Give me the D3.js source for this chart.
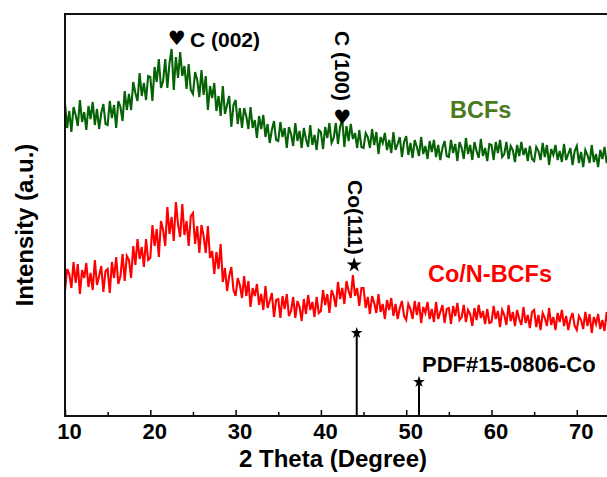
<!DOCTYPE html>
<html>
<head>
<meta charset="utf-8">
<script src="https://cdn.jsdelivr.net/npm/d3@7"></script>
<style>
  body { margin: 0; background: #fff; }
  text { font-family: "Liberation Sans", Arial, sans-serif; font-weight: bold; }
</style>
</head>
<body>
<svg id="chart" width="607" height="477"></svg>
<script>
// scan grid of the diffractometer (degrees 2 theta)
var thetaStart = 10, thetaStep = 0.25

// BCFs counts, one row = 5 degrees
var bcfs = [
  313,288,305,284,309,301,290,316,294,304,286,310,297,314,291,307,287,303,312,292,
  291,315,298,311,288,315,309,295,325,306,322,306,334,323,315,343,320,333,316,340,
  339,315,349,334,357,328,335,357,328,353,367,326,359,338,364,340,350,327,352,326,
  322,344,336,319,346,321,340,306,330,318,333,305,320,300,330,302,311,320,289,311,
  316,292,308,288,308,300,287,309,288,296,278,300,287,301,279,292,273,286,295,276,
  275,294,279,288,268,289,282,270,293,275,285,268,288,277,269,291,271,281,266,286,
  284,267,289,278,293,273,278,293,272,289,297,269,290,275,292,277,283,268,286,269,
  268,283,279,268,287,271,284,262,279,273,283,266,276,263,284,266,272,279,259,274,
  280,261,273,258,276,269,260,279,262,270,257,275,264,276,259,271,256,268,275,260,
  259,276,263,272,255,274,268,257,278,262,271,256,274,265,258,277,260,268,255,272,
  271,256,274,263,276,259,262,274,257,270,266,254,271,260,274,261,268,255,270,257,
  255,269,265,256,273,259,271,251,267,261,271,256,265,254,272,256,262,268,251,265,
  270,253,264,249,266,261,253,271,254,262,249,266,257,269,253,264
]

// Co/N-BCFs counts
var conBcfs = [
  125,147,142,128,154,133,152,122,146,138,153,129,143,126,156,131,140,150,124,145,
  147,123,154,138,159,132,140,162,135,160,156,138,170,151,177,157,169,149,177,156,
  158,191,170,187,159,195,186,170,209,182,199,175,214,192,179,212,181,195,170,200,
  203,172,190,163,191,180,163,190,158,165,142,164,147,172,134,148,125,140,149,126,
  120,138,131,118,140,120,135,109,128,120,132,111,122,106,130,108,115,123,99,116,
  117,98,120,107,122,100,105,119,98,115,109,95,117,102,121,106,114,99,119,103,
  105,126,111,122,103,126,120,109,134,117,128,112,135,125,118,141,120,128,110,128,
  128,108,119,102,120,113,103,122,104,112,97,116,106,118,100,112,97,108,115,100,
  96,112,107,97,115,101,114,93,109,103,114,97,107,94,114,97,104,111,93,107,
  108,92,110,100,113,96,99,111,94,106,102,90,108,96,111,98,105,92,107,93,
  94,110,97,105,89,106,101,91,111,95,104,90,106,97,91,109,93,101,88,104,
  106,89,101,86,103,98,90,108,91,99,86,103,94,106,90,100,86,97,103,90,
  86,100,96,87,104,90,102,83,99,92,102,87,96,85,104,88
]

// PDF#15-0806 Co reference lines
var pdfTheta = [44.2, 51.5]
var pdfIntensity = [100, 41]

var majorTicks = [10, 20, 30, 40, 50, 60, 70]
var minorTicks = [15, 25, 35, 45, 55, 65, 75]

var margin = {left: 65, top: 14}
var plotH = 402

var svg = d3.select("#chart")

var x = d3.scaleLinear().domain([10, 80]).range([margin.left, margin.left + 70 * 8.53])
var y = d3.scaleLinear().domain([0, 402]).range([margin.top + plotH, margin.top])
var yPdf = d3.scaleLinear().domain([0, 100]).range([margin.top + plotH, 333])

svg.append("clipPath").attr("id", "clip")
    .append("rect")
    .attr("x", margin.left).attr("y", margin.top)
    .attr("width", 607 - margin.left).attr("height", plotH)

var line = d3.line()
    .x(function (d, i) { return x(thetaStart + i * thetaStep) })
    .y(function (d) { return y(d) })

var g = svg.append("g").attr("clip-path", "url(#clip)")

g.append("path")
    .attr("d", line(bcfs))
    .attr("fill", "none")
    .attr("stroke", "#056205")
    .attr("stroke-width", 2.1)

g.append("path")
    .attr("d", line(conBcfs))
    .attr("fill", "none")
    .attr("stroke", "#ff0000")
    .attr("stroke-width", 2.1)

// reference sticks
g.selectAll(".stick")
    .data(pdfTheta)
    .enter()
    .append("line")
    .attr("class", "stick")
    .attr("x1", function (d) { return x(d) })
    .attr("x2", function (d) { return x(d) })
    .attr("y1", y(0))
    .attr("y2", function (d, i) { return yPdf(pdfIntensity[i]) })
    .attr("stroke", "#000")
    .attr("stroke-width", 2)

var star = d3.symbol().type(d3.symbolStar)

svg.selectAll(".pdfstar")
    .data(pdfTheta)
    .enter()
    .append("path")
    .attr("class", "pdfstar")
    .attr("d", star.size(42)())
    .attr("transform", function (d, i) { return "translate(" + x(d) + "," + yPdf(pdfIntensity[i]) + ")" })
    .attr("fill", "#000")

// axes
var xAxis = d3.axisBottom(x).tickValues(majorTicks).tickSizeInner(-6).tickSizeOuter(0).tickPadding(7)
var ax = svg.append("g")
    .attr("transform", "translate(0," + (margin.top + plotH) + ")")
    .call(xAxis)
ax.select(".domain").remove()
ax.selectAll(".tick line").attr("stroke", "#000").attr("stroke-width", 1.5)
ax.selectAll(".tick text")
    .attr("fill", "#000")
    .attr("dx", 4)
    .style("font-size", "22px")
    .style("font-family", "'Liberation Sans', Arial, sans-serif")
    .style("font-weight", "bold")

var minorAxis = svg.append("g")
    .attr("transform", "translate(0," + (margin.top + plotH) + ")")
    .call(d3.axisBottom(x).tickValues(minorTicks).tickSizeInner(-4).tickSizeOuter(0).tickFormat(""))
minorAxis.select(".domain").remove()
minorAxis.selectAll(".tick line").attr("stroke", "#000").attr("stroke-width", 1.5)

// frame (right side is cropped)
svg.append("path")
    .attr("d", "M607," + margin.top + "H" + margin.left + "V" + (margin.top + plotH) + "H607")
    .attr("fill", "none")
    .attr("stroke", "#111")
    .attr("stroke-width", 2)

// axis titles
svg.append("text")
    .attr("x", 333).attr("y", 467)
    .attr("text-anchor", "middle")
    .style("font-size", "24px")
    .text("2 Theta (Degree)")

svg.append("text")
    .attr("transform", "translate(33,225) rotate(-90)")
    .attr("text-anchor", "middle")
    .style("font-size", "24px")
    .text("Intensity (a.u.)")

// peak labels
svg.append("text")
    .attr("x", x(23.1)).attr("y", 45)
    .attr("text-anchor", "middle")
    .style("font-family", "'DejaVu Sans', sans-serif")
    .style("font-size", "20px")
    .text("\u2665")
svg.append("text")
    .attr("x", 190).attr("y", 47)
    .style("font-size", "21px")
    .text("C (002)")

svg.append("text")
    .attr("transform", "translate(335,31) rotate(90)")
    .style("font-size", "21px")
    .text("C (100)")
svg.append("text")
    .attr("x", x(42.5)).attr("y", 124)
    .attr("text-anchor", "middle")
    .style("font-family", "'DejaVu Sans', sans-serif")
    .style("font-size", "20px")
    .text("\u2665")

svg.append("text")
    .attr("transform", "translate(348,180) rotate(90)")
    .style("font-size", "21px")
    .text("Co(111)")
svg.append("path")
    .attr("d", star.size(70)())
    .attr("transform", "translate(" + x(43.9) + ",265)")
    .attr("fill", "#000")

// series labels
svg.append("text")
    .attr("x", 450).attr("y", 118)
    .attr("fill", "#4a7a1c")
    .style("font-size", "23.5px")
    .text("BCFs")

svg.append("text")
    .attr("x", 428).attr("y", 282)
    .attr("fill", "#ff0000")
    .style("font-size", "23.5px")
    .text("Co/N-BCFs")

svg.append("text")
    .attr("x", 422).attr("y", 372)
    .style("font-size", "22px")
    .text("PDF#15-0806-Co")
</script>
</body>
</html>
